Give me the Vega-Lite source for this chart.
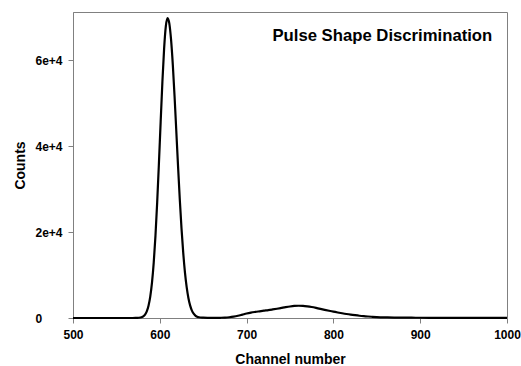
{
  "$schema": "https://vega.github.io/schema/vega-lite/v6.json",
  "width": 434,
  "height": 306,
  "autosize": "none",
  "padding": {"left": 73, "top": 12, "right": 14, "bottom": 48},
  "background": "white",
  "config": {
    "view": {"stroke": "#808080", "strokeWidth": 1},
    "font": "Liberation Sans",
    "axis": {
      "grid": false,
      "domainColor": "#808080",
      "tickColor": "#808080",
      "tickSize": 5,
      "labelFlush": false,
      "labelOverlap": false,
      "labelFont": "Liberation Sans",
      "labelFontWeight": "bold",
      "labelFontSize": 12,
      "labelColor": "black",
      "titleFont": "Liberation Sans",
      "titleFontWeight": "bold",
      "titleFontSize": 14,
      "titleColor": "black"
    }
  },
  "layer": [
    {
      "data": {
        "values": [
          {"ch": 500, "counts": 0},
          {"ch": 540, "counts": 0},
          {"ch": 565, "counts": 2},
          {"ch": 572, "counts": 8},
          {"ch": 576, "counts": 53},
          {"ch": 579, "counts": 183},
          {"ch": 581, "counts": 394},
          {"ch": 583, "counts": 803},
          {"ch": 585, "counts": 1556},
          {"ch": 587, "counts": 2855},
          {"ch": 589, "counts": 4970},
          {"ch": 591, "counts": 8210},
          {"ch": 593, "counts": 12870},
          {"ch": 595, "counts": 19120},
          {"ch": 597, "counts": 26950},
          {"ch": 599, "counts": 36060},
          {"ch": 601, "counts": 45700},
          {"ch": 603, "counts": 55000},
          {"ch": 605, "counts": 62800},
          {"ch": 607, "counts": 68000},
          {"ch": 609, "counts": 69800},
          {"ch": 611, "counts": 68500},
          {"ch": 613, "counts": 64700},
          {"ch": 615, "counts": 58900},
          {"ch": 617, "counts": 51600},
          {"ch": 619, "counts": 43500},
          {"ch": 621, "counts": 35400},
          {"ch": 623, "counts": 27700},
          {"ch": 625, "counts": 20850},
          {"ch": 627, "counts": 15140},
          {"ch": 629, "counts": 10570},
          {"ch": 631, "counts": 7120},
          {"ch": 633, "counts": 4610},
          {"ch": 635, "counts": 2870},
          {"ch": 637, "counts": 1730},
          {"ch": 639, "counts": 1000},
          {"ch": 641, "counts": 570},
          {"ch": 643, "counts": 310},
          {"ch": 645, "counts": 170},
          {"ch": 650, "counts": 80},
          {"ch": 655, "counts": 40},
          {"ch": 660, "counts": 30},
          {"ch": 665, "counts": 30},
          {"ch": 670, "counts": 50},
          {"ch": 675, "counts": 90},
          {"ch": 680, "counts": 180},
          {"ch": 685, "counts": 320},
          {"ch": 690, "counts": 520},
          {"ch": 695, "counts": 780},
          {"ch": 700, "counts": 1050},
          {"ch": 705, "counts": 1260},
          {"ch": 710, "counts": 1420},
          {"ch": 715, "counts": 1560},
          {"ch": 720, "counts": 1700},
          {"ch": 725, "counts": 1830},
          {"ch": 730, "counts": 1990},
          {"ch": 735, "counts": 2160},
          {"ch": 740, "counts": 2340},
          {"ch": 745, "counts": 2520},
          {"ch": 750, "counts": 2680},
          {"ch": 755, "counts": 2800},
          {"ch": 760, "counts": 2850},
          {"ch": 765, "counts": 2820},
          {"ch": 770, "counts": 2710},
          {"ch": 775, "counts": 2550},
          {"ch": 780, "counts": 2350},
          {"ch": 785, "counts": 2130},
          {"ch": 790, "counts": 1900},
          {"ch": 795, "counts": 1680},
          {"ch": 800, "counts": 1470},
          {"ch": 805, "counts": 1280},
          {"ch": 810, "counts": 1100},
          {"ch": 815, "counts": 930},
          {"ch": 820, "counts": 780},
          {"ch": 825, "counts": 650},
          {"ch": 830, "counts": 530},
          {"ch": 835, "counts": 430},
          {"ch": 840, "counts": 350},
          {"ch": 845, "counts": 280},
          {"ch": 850, "counts": 220},
          {"ch": 860, "counts": 150},
          {"ch": 870, "counts": 110},
          {"ch": 880, "counts": 85},
          {"ch": 890, "counts": 70},
          {"ch": 900, "counts": 55},
          {"ch": 920, "counts": 40},
          {"ch": 940, "counts": 30},
          {"ch": 960, "counts": 20},
          {"ch": 980, "counts": 15},
          {"ch": 1000, "counts": 10}
        ]
      },
      "mark": {"type": "line", "color": "black", "strokeWidth": 2.2, "interpolate": "monotone"},
      "encoding": {
        "x": {
          "field": "ch", "type": "quantitative",
          "scale": {"domain": [500, 1000], "nice": false, "zero": false},
          "axis": {
            "values": [500, 600, 700, 800, 900, 1000],
            "format": "d",
            "title": "Channel number",
            "labelPadding": 6,
            "titleBaseline": "alphabetic",
            "titleY": 45
          }
        },
        "y": {
          "field": "counts", "type": "quantitative",
          "scale": {"domain": [0, 71200], "nice": false},
          "axis": {
            "values": [0, 20000, 40000, 60000],
            "labelExpr": "datum.value == 0 ? '0' : format(datum.value / 10000, 'd') + 'e+4'",
            "title": "Counts",
            "labelAlign": "left",
            "labelPadding": 33,
            "titleBaseline": "alphabetic",
            "titleX": -49
          }
        }
      }
    },
    {
      "data": {"values": [{"ch": 983, "counts": 64400, "label": "Pulse Shape Discrimination"}]},
      "mark": {"type": "text", "align": "right", "baseline": "alphabetic", "font": "Liberation Sans", "fontWeight": "bold", "fontSize": 16.7, "color": "black"},
      "encoding": {
        "x": {"field": "ch", "type": "quantitative"},
        "y": {"field": "counts", "type": "quantitative"},
        "text": {"field": "label"}
      }
    }
  ]
}
